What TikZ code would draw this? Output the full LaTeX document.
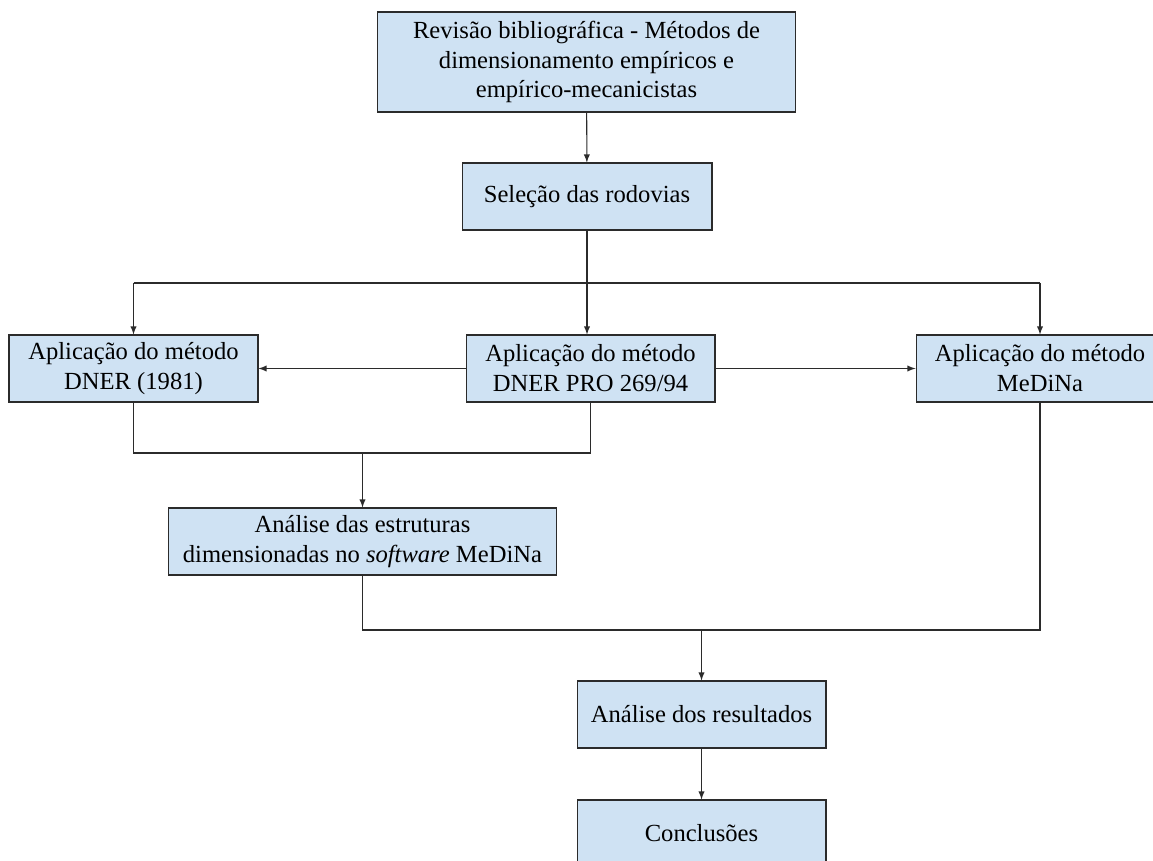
\documentclass[tikz,border=0pt]{standalone}
\usepackage{fontspec}
\setmainfont{Liberation Serif}
\usepackage{tikz}
\definecolor{azulclaro}{HTML}{CFE2F3}
\definecolor{contorno}{HTML}{2B2B2B}
\begin{document}
\begin{tikzpicture}[
		x=0.02cm, y=-0.02cm,
		etapa/.style = {draw=contorno, line width=0.6pt, fill=azulclaro, align=center, inner sep=0pt,
			font=\fontsize{14}{17}\selectfont, minimum height=1.34cm},
		ligacao/.style = {line width=0.6pt, draw=contorno},
		>=latex
			]
		\useasboundingbox (0,0) rectangle (1153,861);

		\node [etapa, minimum width=8.38cm, minimum height=2cm] (revisao) at (586.5,62)
			{Revisão bibliográfica - Métodos de\\ dimensionamento empíricos e\\ empírico-mecanicistas};
		\node [etapa, minimum width=5cm] (selecao) at (587,196.5) {Seleção das rodovias};

		\node [etapa, minimum width=4.98cm] (dner81) at (133.5,368.5) {Aplicação do método\\ DNER (1981)};
		\node [etapa, minimum width=4.98cm] (dnerpro) at (590.5,368.5) {Aplicação do método\\ DNER PRO 269/94};
		\node [etapa, minimum width=4.96cm] (medina) at (1040,368.5) {Aplicação do método\\ MeDiNa};

		\node [etapa, minimum width=7.78cm] (analise) at (362.5,541.5)
			{Análise das estruturas\\ dimensionadas no \textit{software} MeDiNa};
		\node [etapa, minimum width=4.98cm] (resultados) at (701.5,714.5) {Análise dos resultados};
		\node [etapa, minimum width=4.98cm] (conclusoes) at (701.5,833.5) {Conclusões};

		\coordinate (ramo) at (587,283);
		\coordinate (uniao1) at (362.5,453);
		\coordinate (uniao2) at (701.5,630);

		\draw [ligacao,->] (revisao) -- (selecao);
		\draw [ligacao] (selecao.south) -- (ramo);
		\draw [ligacao,->] (ramo) -- (ramo |- dnerpro.north);
		\draw [ligacao] (ramo -| dner81) -- (ramo -| medina);
		\draw [ligacao,->] (ramo -| dner81) -- (dner81);
		\draw [ligacao,->] (ramo -| medina) -- (medina);

		\draw [ligacao,->] (dnerpro) -- (dner81);
		\draw [ligacao,->] (dnerpro) -- (medina);

		\draw [ligacao] (dner81.south) |- (dnerpro.south |- uniao1) -- (dnerpro.south);
		\draw [ligacao,->] (uniao1) -- (analise);

		\draw [ligacao] (analise.south) |- (medina.south |- uniao2) -- (medina.south);
		\draw [ligacao,->] (uniao2) -- (resultados);
		\draw [ligacao,->] (resultados) -- (conclusoes);

	\end{tikzpicture}
\end{document}
